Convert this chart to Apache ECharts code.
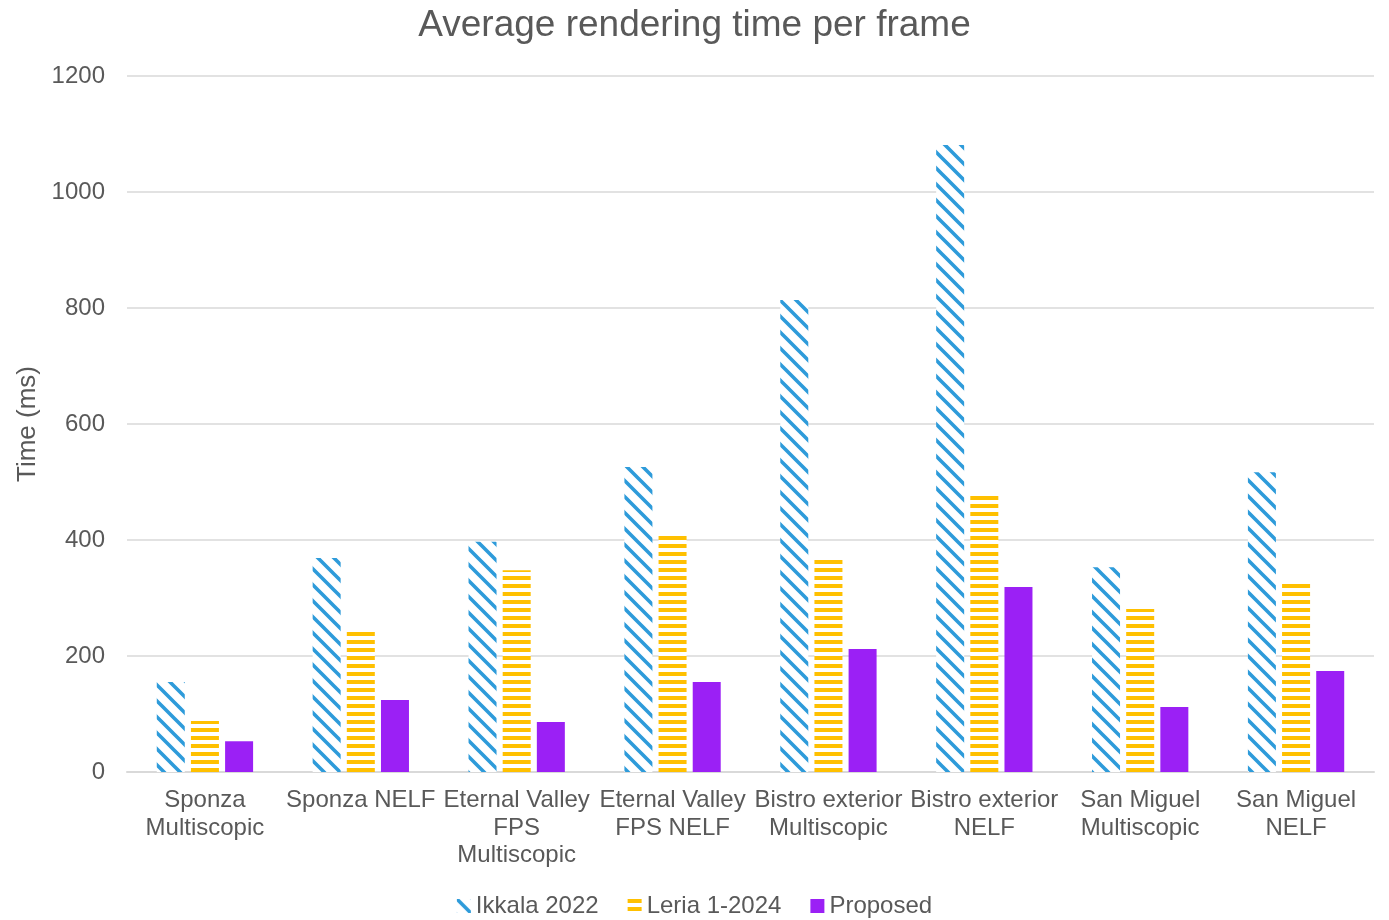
<!DOCTYPE html>
<html>
<head>
<meta charset="utf-8">
<script src="https://cdn.jsdelivr.net/npm/echarts@6/dist/echarts.min.js"></script>
<style>html,body{margin:0;padding:0;background:#fff}#c{width:1389px;height:920px}</style>
</head>
<body>
<div id="c"></div>
<script>
const categories = ['Sponza\nMultiscopic', 'Sponza NELF', 'Eternal Valley\nFPS\nMultiscopic', 'Eternal Valley\nFPS NELF', 'Bistro exterior\nMultiscopic', 'Bistro exterior\nNELF', 'San Miguel\nMultiscopic', 'San Miguel\nNELF'];
const seriesNames = ['Ikkala 2022', 'Leria 1-2024', 'Proposed'];
const ikkala = [155, 369, 397, 526, 814, 1081, 353, 517];
const leria = [88, 243, 348, 410, 367, 478, 281, 324];
const proposed = [53, 124, 86, 155, 212, 319, 112, 174];
const yTicks = [0, 200, 400, 600, 800, 1000, 1200];

function diagPattern(color) {
  const s = 16;
  const c = document.createElement('canvas');
  c.width = s; c.height = s;
  const g = c.getContext('2d');
  g.fillStyle = '#fff'; g.fillRect(0, 0, s, s);
  g.strokeStyle = color; g.lineWidth = 3.6; g.lineCap = 'square';
  g.beginPath();
  g.moveTo(-4, -4); g.lineTo(s + 4, s + 4);
  g.moveTo(-4, s - 4); g.lineTo(4, s + 4);
  g.moveTo(s - 4, -4); g.lineTo(s + 4, 4);
  g.stroke();
  return { image: c, repeat: 'repeat' };
}
function horizPattern(color) {
  const c = document.createElement('canvas');
  c.width = 8; c.height = 8;
  const g = c.getContext('2d');
  g.fillStyle = '#fff'; g.fillRect(0, 0, 8, 8);
  g.fillStyle = color; g.fillRect(0, 0, 8, 4);
  return { image: c, repeat: 'repeat' };
}

const font = 'Arial, "Liberation Sans", sans-serif';
const chart = echarts.init(document.getElementById('c'), null, { renderer: 'canvas' });
chart.setOption({
  animation: false,
  backgroundColor: '#fff',
  title: {
    text: 'Average rendering time per frame',
    left: 'center', top: 2,
    textStyle: { fontFamily: font, fontSize: 37, fontWeight: 'normal', color: '#595959' }
  },
  legend: {
    top: 889, left: 'center',
    itemWidth: 14, itemHeight: 14, itemGap: 29,
    icon: 'rect',
    textStyle: { fontFamily: font, fontSize: 24, color: '#595959', padding: [0, 0, 0, 0] },
    data: seriesNames
  },
  grid: { left: 127, right: 15, top: 76, bottom: 148, containLabel: false },
  xAxis: {
    type: 'category', data: categories,
    axisTick: { show: false },
    axisLine: { lineStyle: { color: '#d9d9d9', width: 2 } },
    axisLabel: { interval: 0, fontFamily: font, fontSize: 24, color: '#595959', lineHeight: 27.5, margin: 15 }
  },
  yAxis: {
    type: 'value', min: yTicks[0], max: yTicks[yTicks.length - 1], interval: 200,
    name: 'Time (ms)', nameLocation: 'middle', nameGap: 84,
    nameTextStyle: { fontFamily: font, fontSize: 26, color: '#595959' },
    axisLine: { show: false }, axisTick: { show: false },
    axisLabel: { fontFamily: font, fontSize: 24, color: '#595959', margin: 22, formatter: v => String(v) },
    splitLine: { lineStyle: { color: '#d9d9d9', width: 1.5 } }
  },
  series: [
    { name: seriesNames[0], type: 'bar', data: ikkala, barWidth: 28, barGap: '22%', itemStyle: { color: diagPattern('#2e9bda') } },
    { name: seriesNames[1], type: 'bar', data: leria, barWidth: 28, barGap: '22%', itemStyle: { color: horizPattern('#ffc000') } },
    { name: seriesNames[2], type: 'bar', data: proposed, barWidth: 28, barGap: '22%', itemStyle: { color: '#9b20f5' } }
  ]
});
</script>
</body>
</html>
